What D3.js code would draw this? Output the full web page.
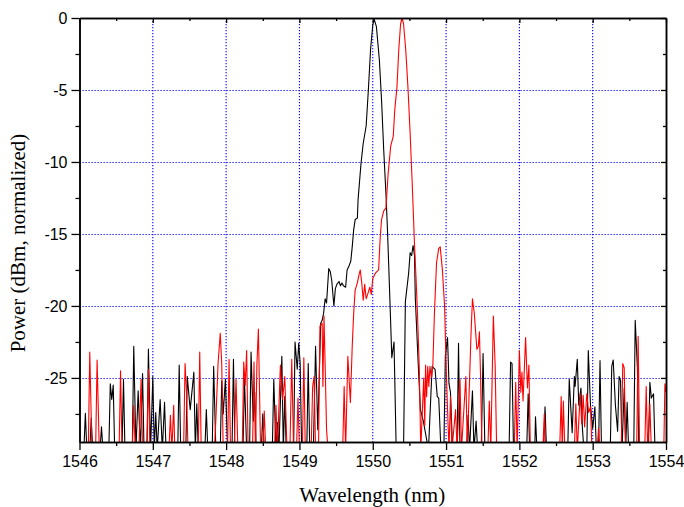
<!DOCTYPE html>
<html>
<head>
<meta charset="utf-8">
<script src="https://cdn.jsdelivr.net/npm/d3@7"></script>
<style>
  html, body { margin: 0; padding: 0; background: #fff; }
  svg { display: block; }
</style>
</head>
<body>
<svg id="chart" width="684" height="507"></svg>
<script>
// noise floor: values below the plotted range (clipped at the bottom axis)
const F = -30;

const xTicks = [1546, 1547, 1548, 1549, 1550, 1551, 1552, 1553, 1554];
const xMinor = [1546.5, 1547.5, 1548.5, 1549.5, 1550.5, 1551.5, 1552.5, 1553.5];
const yTicks = [0, -5, -10, -15, -20, -25];
const yMinor = [-2.5, -7.5, -12.5, -17.5, -22.5, -27.5];

// black trace: [wavelength nm, power dB]
const blackSpectrum = [
  [1546.00,F],[1546.06,F],[1546.08,-27.45],[1546.10,F],[1546.14,F],[1546.16,-27.8],[1546.18,F],
  [1546.28,F],[1546.30,-28.4],[1546.32,F],
  [1546.40,F],[1546.42,-25.4],[1546.44,-26.5],[1546.46,-25.5],[1546.48,F],
  [1546.58,F],[1546.60,-25.1],[1546.62,F],
  [1546.72,F],[1546.74,-22.8],[1546.77,F],[1546.80,-25.9],[1546.83,F],[1546.86,-24.7],[1546.88,F],
  [1546.92,F],[1546.94,-23.0],[1546.97,F],[1547.00,-24.9],[1547.02,F],[1547.04,-27.4],[1547.06,F],
  [1547.10,-26.5],[1547.13,F],[1547.16,-26.7],[1547.18,F],
  [1547.34,F],[1547.36,-24.1],[1547.38,F],
  [1547.45,F],[1547.47,-24.9],[1547.51,-27.2],[1547.56,-24.6],[1547.58,F],[1547.60,-26.8],[1547.62,F],
  [1547.71,F],[1547.73,-27.2],[1547.75,F],
  [1547.81,F],[1547.83,-24.2],[1547.86,F],
  [1547.92,F],[1547.94,-25.2],[1547.96,-27.5],[1547.99,-25.1],[1548.02,F],
  [1548.08,F],[1548.10,-23.7],[1548.12,F],
  [1548.23,F],[1548.25,-25.0],[1548.28,F],
  [1548.32,F],[1548.34,-23.2],[1548.37,-28.0],[1548.39,-26.0],[1548.41,F],
  [1548.48,F],[1548.50,-27.5],[1548.52,F],
  [1548.63,F],[1548.65,-25.1],[1548.68,F],[1548.70,-28.1],[1548.72,F],[1548.76,-23.5],[1548.78,F],
  [1548.80,-26.3],[1548.82,F],
  [1548.92,F],[1548.94,-22.5],[1548.97,-24.4],[1548.99,-22.6],[1549.01,-24.0],[1549.03,F],
  [1549.10,F],[1549.12,-24.0],[1549.14,F],
  [1549.19,F],[1549.22,-22.8],[1549.25,-28.6],[1549.29,-21.2],[1549.31,-21.0],[1549.33,-20.5],
  [1549.35,-19.5],[1549.37,-19.8],[1549.40,-17.4],[1549.42,-17.6],[1549.44,-18.2],[1549.47,-20.0],
  [1549.49,-18.8],[1549.51,-18.5],[1549.54,-18.3],[1549.56,-18.6],[1549.58,-18.4],[1549.60,-18.6],
  [1549.63,-18.7],[1549.65,-17.5],[1549.67,-17.3],[1549.70,-16.9],[1549.72,-15.9],[1549.74,-14.7],
  [1549.76,-14.0],[1549.79,-13.9],[1549.80,-12.6],[1549.84,-10.1],[1549.87,-8.7],[1549.91,-7.5],
  [1549.94,-5.0],[1549.97,-2.2],[1550.00,-0.5],[1550.02,-0.1],[1550.05,-0.6],[1550.09,-2.9],
  [1550.12,-5.7],[1550.15,-9.2],[1550.18,-12.2],[1550.20,-14.6],[1550.22,-17.5],[1550.24,-20.5],
  [1550.26,-23.6],[1550.29,-22.5],[1550.32,F],
  [1550.42,F],[1550.445,-19.7],[1550.49,-17.7],[1550.51,-16.3],[1550.53,-16.5],[1550.55,-15.8],
  [1550.57,-16.5],[1550.58,-19.4],[1550.62,-24.0],[1550.65,-27.2],[1550.69,-28.0],[1550.76,F],
  [1550.81,-24.2],[1550.85,-24.4],[1550.88,-26.3],[1550.90,-26.4],[1550.93,F],
  [1550.97,F],[1550.99,-23.5],[1551.02,-22.2],[1551.04,-25.4],[1551.06,-26.0],[1551.09,F],
  [1551.15,F],[1551.17,-22.6],[1551.19,F],
  [1551.28,F],[1551.30,-27.6],[1551.32,F],[1551.36,-25.9],[1551.38,F],[1551.41,-28.0],[1551.43,F],
  [1551.48,F],[1551.505,-23.3],[1551.53,F],
  [1551.86,F],[1551.88,-23.9],[1551.90,-24.0],[1551.92,F],
  [1552.10,F],[1552.12,-26.1],[1552.14,F],
  [1552.21,F],[1552.22,-27.7],[1552.24,F],
  [1552.33,F],[1552.35,-27.0],[1552.37,F],
  [1552.66,F],[1552.68,-25.1],[1552.72,-28.8],[1552.75,-24.9],[1552.76,-25.6],[1552.79,-23.7],
  [1552.81,-26.9],[1552.84,-25.7],[1552.86,-28.5],[1552.88,F],
  [1552.92,F],[1552.94,-23.1],[1552.97,-26.9],[1553.00,-28.5],[1553.03,-27.0],[1553.05,F],
  [1553.08,F],[1553.10,-23.8],[1553.12,F],
  [1553.24,F],[1553.26,-24.2],[1553.28,-23.75],[1553.31,-26.9],[1553.34,-28.7],[1553.36,-24.9],
  [1553.38,-25.2],[1553.40,F],[1553.43,-25.7],[1553.45,F],[1553.47,-26.7],[1553.49,F],
  [1553.56,F],[1553.58,-21.0],[1553.61,-24.3],[1553.63,F],
  [1553.76,F],[1553.78,-25.3],[1553.80,-26.4],[1553.83,-26.1],[1553.85,F],[1554.00,F]
];

// red trace: [wavelength nm, power dB]
const redSpectrum = [
  [1546.00,F],[1546.12,F],[1546.14,-23.2],[1546.17,F],[1546.22,F],[1546.24,-23.75],[1546.27,F],
  [1546.54,F],[1546.56,-24.5],[1546.58,F],
  [1546.72,F],[1546.74,-26.9],[1546.76,F],[1546.81,F],[1546.84,-25.1],[1546.86,F],
  [1546.92,F],[1546.94,-24.4],[1546.96,F],
  [1547.22,F],[1547.24,-27.6],[1547.26,F],[1547.285,-26.9],[1547.30,F],
  [1547.42,F],[1547.44,-24.0],[1547.46,-26.0],[1547.48,F],
  [1547.62,F],[1547.64,-23.2],[1547.66,F],
  [1547.84,F],[1547.86,-27.9],[1547.89,-24.0],[1547.92,-21.9],[1547.94,-24.0],[1547.96,F],
  [1548.02,F],[1548.04,-23.7],[1548.06,F],
  [1548.11,F],[1548.135,-25.1],[1548.16,F],
  [1548.22,F],[1548.24,-23.9],[1548.26,-25.5],[1548.28,-23.1],[1548.30,F],
  [1548.36,F],[1548.38,-23.9],[1548.40,F],[1548.42,-24.0],[1548.44,-21.6],[1548.47,F],
  [1548.50,F],[1548.52,-27.3],[1548.54,F],
  [1548.66,F],[1548.68,-26.9],[1548.70,F],[1548.74,-24.1],[1548.77,-26.5],[1548.80,-24.9],[1548.83,F],
  [1548.87,F],[1548.895,-23.7],[1548.92,F],
  [1548.96,F],[1548.98,-26.4],[1549.00,F],
  [1549.04,F],[1549.06,-23.6],[1549.08,F],
  [1549.16,F],[1549.18,-25.6],[1549.20,-24.9],[1549.22,F],
  [1549.26,F],[1549.28,-21.4],[1549.31,-21.2],[1549.32,-25.6],[1549.335,-20.7],[1549.35,-24.0],
  [1549.37,-28.6],[1549.39,F],
  [1549.59,F],[1549.61,-25.6],[1549.63,F],[1549.66,-23.5],[1549.695,-26.7],[1549.72,-22.8],
  [1549.74,-20.5],[1549.76,-18.9],[1549.79,-18.4],[1549.81,-17.9],[1549.83,-17.5],[1549.85,-18.4],
  [1549.87,-19.6],[1549.89,-18.5],[1549.91,-19.5],[1549.93,-19.2],[1549.96,-18.7],[1549.98,-19.2],
  [1550.00,-18.1],[1550.04,-17.7],[1550.08,-17.5],[1550.10,-15.4],[1550.12,-14.0],[1550.15,-13.4],
  [1550.18,-13.2],[1550.21,-10.8],[1550.245,-8.9],[1550.28,-8.2],[1550.30,-6.4],[1550.33,-4.8],
  [1550.355,-2.2],[1550.38,-0.4],[1550.40,0],[1550.42,-0.4],[1550.45,-2.2],[1550.48,-4.8],
  [1550.51,-8.0],[1550.54,-11.7],[1550.57,-15.8],[1550.59,-18.0],[1550.61,-20.5],[1550.635,-24.4],
  [1550.655,F],
  [1550.695,-25.0],[1550.71,-28.3],[1550.72,-24.1],[1550.735,-26.3],[1550.75,-24.2],[1550.765,-25.6],
  [1550.78,-24.2],[1550.80,-25.0],[1550.82,-24.1],[1550.84,-20.7],[1550.87,-17.0],[1550.90,-16.0],
  [1550.92,-15.9],[1550.95,-17.5],[1550.98,-20.0],[1551.00,-24.0],[1551.02,-27.2],[1551.04,F],
  [1551.06,-26.3],[1551.08,F],[1551.13,-27.2],[1551.15,F],[1551.19,-25.1],[1551.21,F],
  [1551.27,-24.9],[1551.29,F],[1551.34,-22.0],[1551.36,-19.5],[1551.385,-20.5],[1551.42,-23.0],
  [1551.44,-22.8],[1551.455,-21.8],[1551.47,-24.8],[1551.49,F],
  [1551.57,F],[1551.59,-26.6],[1551.61,F],[1551.645,-20.7],[1551.67,-24.2],[1551.69,F],
  [1551.93,F],[1551.95,-25.3],[1551.97,F],[1552.00,-23.1],[1552.02,-26.0],[1552.035,-24.6],
  [1552.05,-26.6],[1552.085,-22.2],[1552.11,-25.7],[1552.13,-24.1],[1552.15,F],
  [1552.32,F],[1552.34,-27.5],[1552.36,F],
  [1552.55,F],[1552.57,-26.3],[1552.585,F],[1552.60,-26.6],[1552.62,F],
  [1552.75,F],[1552.77,-26.8],[1552.79,F],[1552.83,-26.1],[1552.85,-28.2],[1552.87,-26.2],
  [1552.89,-28.4],[1552.92,-26.1],[1552.945,-27.4],[1552.97,-27.0],[1552.99,F],
  [1553.06,F],[1553.08,-28.5],[1553.10,F],
  [1553.39,F],[1553.41,-24.0],[1553.43,-24.3],[1553.45,F],
  [1553.60,F],[1553.62,-22.1],[1553.64,F],
  [1553.71,F],[1553.73,-25.6],[1553.75,F],[1553.78,-26.8],[1553.80,F],
  [1553.97,F],[1553.985,-25.4],[1554.00,-26.0]
];

const series = [
  { name: "black", color: "#000000", data: blackSpectrum },
  { name: "red", color: "#ff0000", data: redSpectrum }
];

const svg = d3.select("#chart");
const plotL = 79.5, plotR = 666, plotT = 18, plotB = 442;

const x = d3.scaleLinear().domain([1546, 1554]).range([plotL, plotR]);
const y = d3.scaleLinear().domain([-29.45, 0]).range([plotB, plotT]);

svg.append("defs").append("clipPath").attr("id", "plot-clip")
  .append("rect")
  .attr("x", plotL).attr("y", plotT)
  .attr("width", plotR - plotL).attr("height", plotB - plotT);

// dotted blue grid at the inner major ticks
const grid = svg.append("g").attr("class", "grid")
  .attr("stroke", "#0000ff").attr("stroke-width", 1.1).attr("stroke-dasharray", "1.2,1.8");
grid.selectAll("line.gx")
  .data(xTicks.slice(1, -1))
  .join("line").attr("class", "gx")
  .attr("x1", d => x(d)).attr("x2", d => x(d))
  .attr("y1", plotT).attr("y2", plotB);
grid.selectAll("line.gy")
  .data(yTicks.slice(1))
  .join("line").attr("class", "gy")
  .attr("x1", plotL).attr("x2", plotR)
  .attr("y1", d => Math.round(y(d)) + 0.5).attr("y2", d => Math.round(y(d)) + 0.5);

// spectra
const line = d3.line().x(d => x(d[0])).y(d => y(d[1]));
svg.append("g").attr("clip-path", "url(#plot-clip)")
  .selectAll("path")
  .data(series)
  .join("path")
  .attr("fill", "none")
  .attr("stroke", d => d.color)
  .attr("stroke-width", 1.1)
  .attr("stroke-linejoin", "round")
  .attr("d", d => line(d.data));

// axes
const tickFont = "'Liberation Sans', Arial, sans-serif";
const plainNum = d => String(d); // hyphen-minus like the original
function styleAxis(g) {
  g.selectAll("path.domain").attr("stroke", "#000").attr("stroke-width", 1.5);
  g.selectAll(".tick line").attr("stroke", "#000").attr("stroke-width", 1.3);
  g.selectAll("text").attr("fill", "#000").style("font-family", tickFont).style("font-size", "16px");
}

// bottom: labelled majors + minors, outward
svg.append("g").attr("transform", `translate(0,${plotB})`)
  .call(d3.axisBottom(x).tickValues(xMinor).tickSize(4).tickSizeOuter(0).tickFormat(""))
  .call(styleAxis);
svg.append("g").attr("transform", `translate(0,${plotB})`)
  .call(d3.axisBottom(x).tickValues(xTicks).tickSize(8).tickSizeOuter(0).tickPadding(6).tickFormat(plainNum))
  .call(styleAxis);

// left: labelled majors + minors, outward
svg.append("g").attr("transform", `translate(${plotL},0)`)
  .call(d3.axisLeft(y).tickValues(yMinor).tickSize(4).tickSizeOuter(0).tickFormat(""))
  .call(styleAxis);
svg.append("g").attr("transform", `translate(${plotL},0)`)
  .call(d3.axisLeft(y).tickValues(yTicks).tickSize(8).tickSizeOuter(0).tickPadding(4).tickFormat(plainNum))
  .call(styleAxis);

// top and right: inward ticks, no labels
svg.append("g").attr("transform", `translate(0,${plotT})`)
  .call(d3.axisBottom(x).tickValues(xMinor).tickSize(3).tickSizeOuter(0).tickFormat(""))
  .call(styleAxis);
svg.append("g").attr("transform", `translate(0,${plotT})`)
  .call(d3.axisBottom(x).tickValues(xTicks).tickSize(5).tickSizeOuter(0).tickFormat(""))
  .call(styleAxis);
svg.append("g").attr("transform", `translate(${plotR},0)`)
  .call(d3.axisLeft(y).tickValues(yMinor).tickSize(3).tickSizeOuter(0).tickFormat(""))
  .call(styleAxis);
svg.append("g").attr("transform", `translate(${plotR},0)`)
  .call(d3.axisLeft(y).tickValues(yTicks).tickSize(5).tickSizeOuter(0).tickFormat(""))
  .call(styleAxis);

// axis titles
const titleFont = "'Liberation Serif', 'Times New Roman', serif";
svg.append("text")
  .attr("x", (plotL + plotR) / 2 - 0.5).attr("y", 502)
  .attr("text-anchor", "middle")
  .style("font-family", titleFont).style("font-size", "21px")
  .text("Wavelength (nm)");
svg.append("text")
  .attr("transform", `translate(25,${(plotT + plotB) / 2 + 13}) rotate(-90)`)
  .attr("text-anchor", "middle")
  .style("font-family", titleFont).style("font-size", "21px")
  .text("Power (dBm, normalized)");
</script>
</body>
</html>
